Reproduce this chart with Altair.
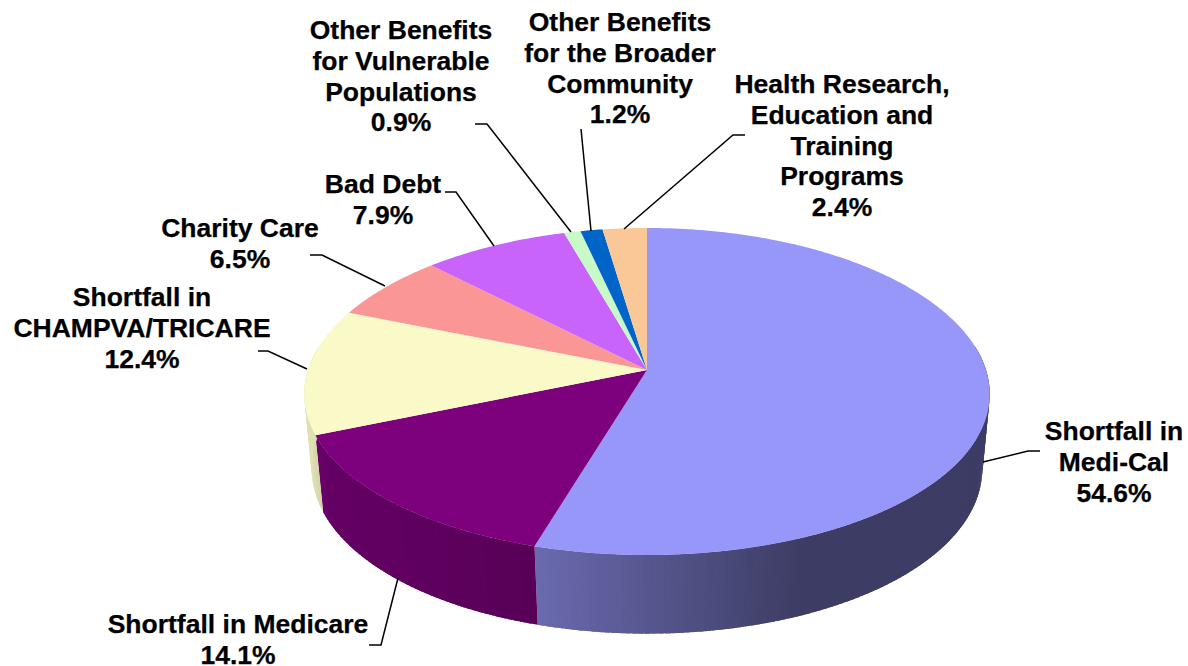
import numpy as np
import pandas as pd
import altair as alt

# Community benefit shares, clockwise from twelve o'clock
names = [
    "Shortfall in\nMedi-Cal",
    "Shortfall in Medicare",
    "Shortfall in\nCHAMPVA/TRICARE",
    "Charity Care",
    "Bad Debt",
    "Other Benefits\nfor Vulnerable\nPopulations",
    "Other Benefits\nfor the Broader\nCommunity",
    "Health Research,\nEducation and\nTraining\nPrograms",
]
shares = [54.6, 14.1, 12.4, 6.5, 7.9, 0.9, 1.2, 2.4]
colors = ["#9797FA", "#7D007D", "#FAFAC8", "#FA9696", "#C864FA", "#C8FAC8", "#0064C8", "#FAC896"]

# Label anchors (centre x, top of first line)
label_x = [1114, 238, 142, 240, 383, 401, 620, 842]
label_y = [419, 612, 285, 216, 172, 18, 10, 72]

# Leader line vertices for each label
leaders = [
    [(983, 462), (1028, 451), (1040, 451)],
    [(398, 578), (381, 645), (369, 645)],
    [(307, 369), (268, 351), (258, 351)],
    [(385, 286), (322, 255), (310, 255)],
    [(494, 246), (456, 192), (445, 192)],
    [(571, 232), (487, 124), (475, 124)],
    [(591, 231), (581, 129)],
    [(624, 229), (733, 135), (745, 135)],
]

# Perspective parameters of the upper and lower rims
CX, TOP_CY, TOP_A, TOP_B, TOP_KX, TOP_KY = 647, 370, 339, 160.7, -0.147, -0.1315
BOT_CY, BOT_A, BOT_B, BOT_KX, BOT_KY = 445, 332, 166, -0.14, -0.12

# Shading of the wall as a function of horizontal position
shade_x = [305, 325, 534, 800, 990]
shade_f = [0.90, 0.80, 0.70, 0.40, 0.40]


def top_rim(deg):
    t = np.radians(deg)
    X, Y = np.sin(t), -np.cos(t)
    return CX + TOP_A * X / (1 + TOP_KX * Y), TOP_CY + TOP_B * Y / (1 + TOP_KY * Y)


def bottom_rim(deg):
    t = np.radians(deg)
    X, Y = np.sin(t), -np.cos(t)
    return CX + BOT_A * X / (1 + BOT_KX * Y), BOT_CY + BOT_B * Y / (1 + BOT_KY * Y)


def darker(hex_color, f):
    rgb = [int(hex_color[i:i + 2], 16) for i in (1, 3, 5)]
    return "#" + "".join(f"{int(round(c * f)):02x}" for c in rgb)


edges = np.concatenate([[0], np.cumsum(shares) * 3.6])

top_rows, side_rows = [], []
for i, color in enumerate(colors):
    start, end = edges[i], edges[i + 1]
    sweep = np.linspace(start, end, max(int((end - start) * 2), 4))
    path = [(CX, TOP_CY)] + [top_rim(a) for a in sweep]
    for n, (x, y) in enumerate(path):
        top_rows.append({"slice": i, "n": n, "x": x, "y": y, "fill": color})

    # Wall built from narrow overlapping strips so the shade can change along the rim
    cuts = np.linspace(start, end, max(int(end - start) + 1, 2))
    for j in range(len(cuts) - 1):
        a, b = cuts[j], min(cuts[j + 1] + 0.8, end)
        if np.cos(np.radians((a + b) / 2)) > 0.15:
            continue
        corners = [top_rim(a), top_rim(b), bottom_rim(b), bottom_rim(a)]
        mid_x = (corners[0][0] + corners[1][0]) / 2
        fill = darker(color, float(np.interp(mid_x, shade_x, shade_f)))
        for n, (x, y) in enumerate(corners):
            side_rows.append({"strip": i * 1000 + j, "n": n, "x": x, "y": y, "fill": fill})

leader_rows = []
for i, pts in enumerate(leaders):
    for n, (x, y) in enumerate(pts):
        leader_rows.append({"label": i, "n": n, "x": x, "y": y})

label_rows = pd.DataFrame({
    "x": label_x,
    "y": label_y,
    "text": [f"{name}\n{share}%" for name, share in zip(names, shares)],
})

x_enc = alt.X("x:Q", scale=alt.Scale(domain=[0, 1188], nice=False, zero=False), axis=None)
y_enc = alt.Y("y:Q", scale=alt.Scale(domain=[666, 0], nice=False, zero=False), axis=None)

sides = alt.Chart(pd.DataFrame(side_rows)).mark_line(filled=True, strokeWidth=0).encode(
    x=x_enc, y=y_enc, order="n:Q", detail="strip:N",
    fill=alt.Fill("fill:N", scale=None),
)
tops = alt.Chart(pd.DataFrame(top_rows)).mark_line(filled=True, strokeWidth=0).encode(
    x=x_enc, y=y_enc, order="n:Q", detail="slice:N",
    fill=alt.Fill("fill:N", scale=None),
)
lines = alt.Chart(pd.DataFrame(leader_rows)).mark_line(color="#000000", strokeWidth=1.5).encode(
    x=x_enc, y=y_enc, order="n:Q", detail="label:N",
)
labels = alt.Chart(label_rows).mark_text(
    font="Liberation Sans", fontWeight="bold", fontSize=26.5, lineHeight=30.8,
    lineBreak="\n", baseline="top", align="center", color="#000000",
    stroke="#000000", strokeWidth=0.25,
).encode(x=x_enc, y=y_enc, text="text:N")

chart = (
    alt.layer(sides, tops, lines, labels)
    .properties(width=1188, height=666, padding=0, autosize=alt.AutoSizeParams(type="none"), background="#ffffff")
    .configure_view(stroke=None)
)
chart.save("out.html", embed_options={"renderer": "svg", "actions": False})
